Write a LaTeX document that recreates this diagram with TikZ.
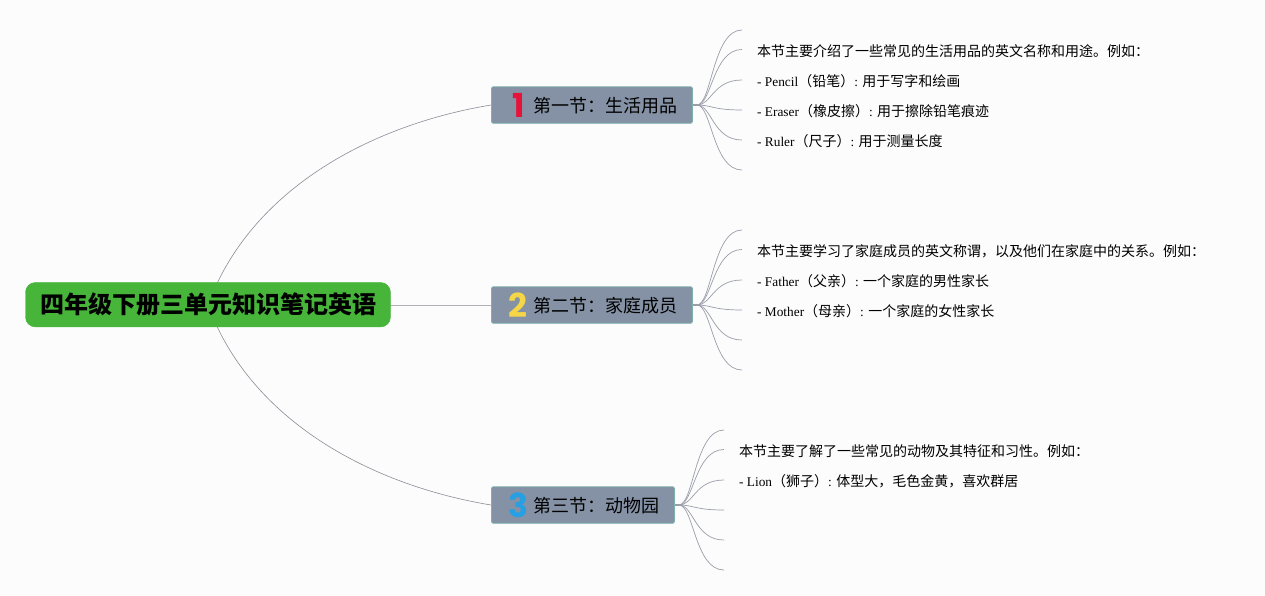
\documentclass[tikz,border=0pt]{standalone}
\usepackage{fontspec}
\setmainfont{Liberation Serif}
\newfontfamily\cjk{Noto Sans CJK SC}
\newfontfamily\badgefont{Poppins}[BoldFont=* Bold]
\newcommand{\zh}[1]{{\cjk\fontsize{14}{16}\selectfont #1}}
\newcommand{\fcolon}{\symbol{"FF1A}}
\newcommand{\fcomma}{\symbol{"FF0C}}
\newcommand{\flp}{\symbol{"FF08}}
\newcommand{\frp}{\symbol{"FF09}}
\definecolor{pagebg}{HTML}{FCFCFD}
\definecolor{rootfill}{HTML}{47B53A}
\definecolor{secfill}{HTML}{8592A6}
\definecolor{secedge}{HTML}{7DB3AA}
\definecolor{linkcol}{HTML}{8C8C96}
\definecolor{leafcol}{HTML}{9A9EA8}
\tikzset{
  rootnode/.style={draw=rootfill,fill=rootfill,rounded corners=10pt,minimum width=365pt,minimum height=44.5pt,inner sep=0pt,font=\cjk\bfseries\fontsize{24}{28}\selectfont,text=black},
  secnode/.style={draw=secedge,line width=0.9pt,fill=secfill,rounded corners=1.5pt,minimum height=36.5pt,inner sep=0pt,anchor=west},
  sectext/.style={font=\cjk\fontsize{18}{22}\selectfont,text=black,anchor=west,inner sep=0pt},
  badge/.style={font=\badgefont\bfseries\fontsize{33}{33}\selectfont,inner sep=0pt},
  leaftext/.style={font=\fontsize{13.33}{16}\selectfont,text=black,anchor=west,inner xsep=15pt,inner ysep=0pt,text height=16pt,text depth=3pt},
  biglink/.style={draw=linkcol,line width=0.6pt},
  leaflink/.style={draw=leafcol,line width=0.7pt},
  stub/.style={draw=leafcol,line width=1.6pt},
}
\newcommand{\fan}[7]{% node, then six ends
  \draw[stub] (#1.east) -- ++(4,0) coordinate (#1x);
  \foreach \e in {#2,#3,#4,#5,#6,#7}{
    \draw[leaflink] (#1x) .. controls ($(#1x)!0.33!(#1x -| \e)$) and ($(\e)!0.65!(#1x |- \e)$) .. (\e);
  }
}
\usetikzlibrary{calc}
\begin{document}
\begin{tikzpicture}[x=1pt,y=-1pt]
\useasboundingbox (0,0) rectangle (1265,595);
\fill[pagebg] (0,0) rectangle (1265,595);

% section boxes
\node[secnode,minimum width=201pt] (s1) at (491,105) {};
\node[secnode,minimum width=201pt] (s2) at (491,305) {};
\node[secnode,minimum width=183pt] (s3) at (491,505) {};
\node[sectext] (t1) at (533,106) {第一节\fcolon 生活用品};
\node[sectext] (t2) at (533,306) {第二节\fcolon 家庭成员};
\node[sectext] (t3) at (533,506) {第三节\fcolon 动物园};
\node[badge,text={rgb,255:red,230;green,18;blue,58}] (b1) at (519,105) {1};
\node[badge,text={rgb,255:red,245;green,214;blue,70}] (b2) at (518,305) {2};
\node[badge,text={rgb,255:red,38;green,160;blue,226}] (b3) at (518,505) {3};

% root
\coordinate (rc) at (208,305);
\draw[biglink] (rc) .. controls (250,190) and (370,125) .. (s1.west);
\draw[biglink] (rc) .. controls (250,420) and (370,485) .. (s3.west);
\draw[draw=linkcol!70,line width=0.8pt] (rc) -- (s2.west);
\node[rootnode] (root) at (208,304.7) {四年级下册三单元知识笔记英语};

% leaves 1
\coordinate (a1) at (742,30);
\node[leaftext] (a2) at (742,49.5) {\zh{本节主要介绍了一些常见的生活用品的英文名称和用途。例如\fcolon}};
\node[leaftext] (a3) at (742,80) {- Pencil\zh{\flp 铅笔\frp}: \zh{用于写字和绘画}};
\node[leaftext] (a4) at (742,110) {- Eraser\zh{\flp 橡皮擦\frp}: \zh{用于擦除铅笔痕迹}};
\node[leaftext] (a5) at (742,140) {- Ruler\zh{\flp 尺子\frp}: \zh{用于测量长度}};
\coordinate (a6) at (742,170);
\fan{s1}{a1}{a2.west}{a3.west}{a4.west}{a5.west}{a6}

% leaves 2
\coordinate (c1) at (742,230);
\node[leaftext] (c2) at (742,249.5) {\zh{本节主要学习了家庭成员的英文称谓\fcomma 以及他们在家庭中的关系。例如\fcolon}};
\node[leaftext] (c3) at (742,280) {- Father\zh{\flp 父亲\frp}: \zh{一个家庭的男性家长}};
\node[leaftext] (c4) at (742,310) {- Mother\zh{\flp 母亲\frp}: \zh{一个家庭的女性家长}};
\coordinate (c5) at (742,340);
\coordinate (c6) at (742,370);
\fan{s2}{c1}{c2.west}{c3.west}{c4.west}{c5}{c6}

% leaves 3
\coordinate (d1) at (724,430);
\node[leaftext] (d2) at (724,449.5) {\zh{本节主要了解了一些常见的动物及其特征和习性。例如\fcolon}};
\node[leaftext] (d3) at (724,480) {- Lion\zh{\flp 狮子\frp}: \zh{体型大\fcomma 毛色金黄\fcomma 喜欢群居}};
\coordinate (d4) at (724,510);
\coordinate (d5) at (724,540);
\coordinate (d6) at (724,570);
\fan{s3}{d1}{d2.west}{d3.west}{d4}{d5}{d6}
\end{tikzpicture}
\end{document}
